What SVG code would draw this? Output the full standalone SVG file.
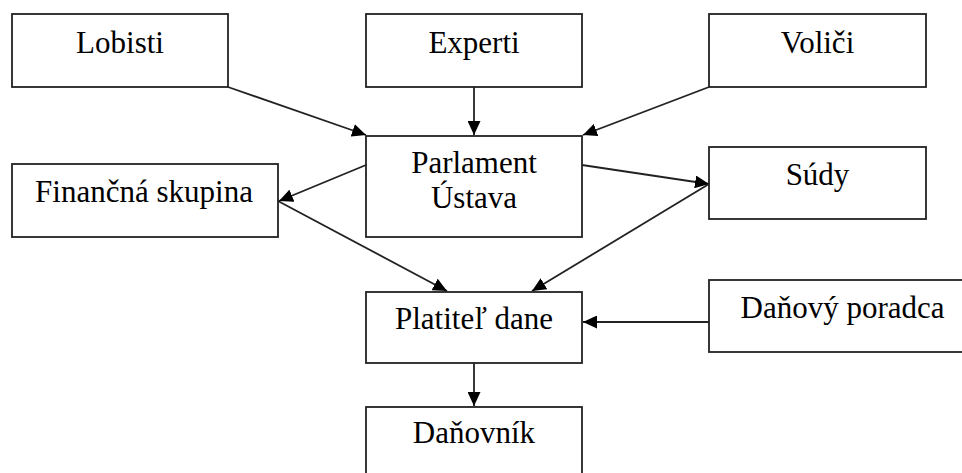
<svg xmlns="http://www.w3.org/2000/svg" width="962" height="473" viewBox="0 0 962 473">
<style>
.box{fill:#fff;stroke:#222;stroke-width:1.8}
.t{font-family:"Liberation Serif","Times New Roman",serif;font-size:31px;fill:#000;text-anchor:middle}
.c{stroke:#222;stroke-width:1.8;fill:none;marker-end:url(#ah)}
</style>
<defs>
<marker id="ah" markerUnits="userSpaceOnUse" markerWidth="15" markerHeight="13" refX="14" refY="6.5" orient="auto">
<path d="M0,0 L14,6.5 L0,13 Z" fill="#000"/>
</marker>
</defs>
<rect width="962" height="473" fill="#fff"/>
<g id="lobisti"><rect class="box" x="12" y="14" width="216" height="73"/><text class="t" x="120" y="53">Lobisti</text></g>
<g id="experti"><rect class="box" x="366" y="14" width="216" height="73"/><text class="t" x="474" y="53">Experti</text></g>
<g id="volici"><rect class="box" x="709" y="14" width="217" height="73"/><text class="t" x="817.5" y="53">Voliči</text></g>
<g id="parlament"><rect class="box" x="366" y="136" width="216" height="101"/><text class="t" x="474" y="173">Parlament</text><text class="t" x="474" y="208">Ústava</text></g>
<g id="financna"><rect class="box" x="12" y="164" width="266" height="73"/><text class="t" x="144" y="202">Finančná skupina</text></g>
<g id="sudy"><rect class="box" x="709" y="147" width="217" height="72"/><text class="t" x="817.5" y="185">Súdy</text></g>
<g id="platitel"><rect class="box" x="366" y="292" width="216" height="71"/><text class="t" x="474" y="329">Platiteľ dane</text></g>
<g id="poradca"><rect class="box" x="709" y="280" width="271" height="72"/><text class="t" x="842.5" y="318">Daňový poradca</text></g>
<g id="danovnik"><rect class="box" x="366" y="407" width="216" height="80"/><text class="t" x="474" y="443">Daňovník</text></g>
<g id="connectors">
<line class="c" x1="228" y1="87" x2="366" y2="135"/>
<line class="c" x1="474" y1="87" x2="474" y2="135"/>
<line class="c" x1="709" y1="87" x2="583" y2="135"/>
<line class="c" x1="366" y1="165" x2="279" y2="201"/>
<line class="c" x1="582" y1="165" x2="709" y2="184"/>
<line class="c" x1="278" y1="201" x2="447" y2="291"/>
<line class="c" x1="709" y1="184" x2="532" y2="291"/>
<line class="c" x1="709" y1="322" x2="583" y2="322"/>
<line class="c" x1="474" y1="363" x2="474" y2="406"/>
</g>
</svg>
